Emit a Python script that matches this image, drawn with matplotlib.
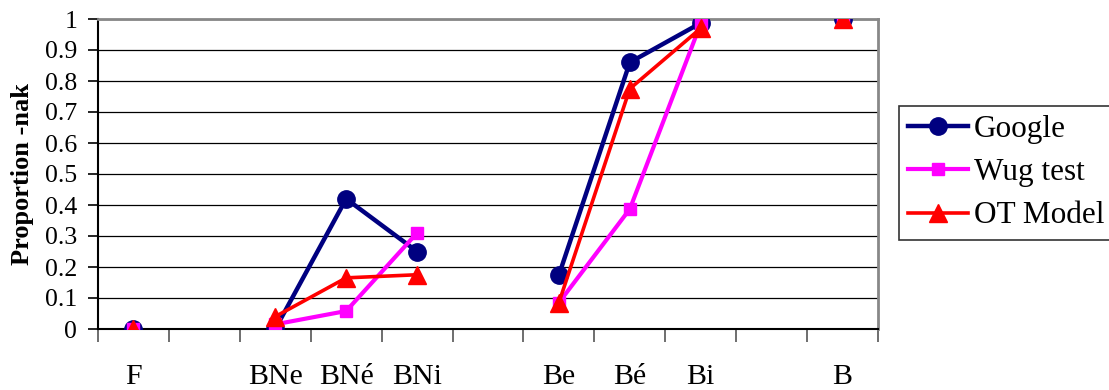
import numpy as np
import matplotlib.pyplot as plt
from matplotlib.ticker import FixedLocator

# categories (blank slots separate the groups)
categories = ['F', '', 'BNe', 'BNé', 'BNi', '', 'Be', 'Bé', 'Bi', '', 'B']

# proportion of -nak (NaN = no value)
google = [0.0, np.nan, 0.0, 0.42, 0.25, np.nan, 0.174, 0.86, 0.987, np.nan, 1.0]
wug_test = [0.0, np.nan, 0.015, 0.058, 0.31, np.nan, 0.085, 0.387, 0.985, np.nan, 1.0]
ot_model = [0.0, np.nan, 0.04, 0.165, 0.175, np.nan, 0.085, 0.775, 0.97, np.nan, 1.0]

y_ticks = [0, 0.1, 0.2, 0.3, 0.4, 0.5, 0.6, 0.7, 0.8, 0.9, 1]
y_ticklabels = ['0', '0.1', '0.2', '0.3', '0.4', '0.5', '0.6', '0.7', '0.8', '0.9', '1']

plt.rcParams['font.family'] = ['Liberation Serif', 'DejaVu Serif']

fig = plt.figure(figsize=(11.09, 3.90), dpi=100)
ax = fig.add_axes([98 / 1109, 61 / 390, 780 / 1109, 310 / 390])

x = np.arange(len(categories))
ax.plot(x, google, color='#000080', lw=3.2, marker='o', ms=12.5, label='Google', zorder=3)
ax.plot(x, wug_test, color='#FF00FF', lw=3, marker='s', ms=8, label='Wug test', zorder=4)
ax.plot(x, ot_model, color='#FF0000', lw=2.6, marker='^', ms=12.5, label='OT Model', zorder=5)

ax.set_xlim(-0.5, len(categories) - 0.5)
ax.set_ylim(0, 1)
ax.set_yticks(y_ticks)
ax.set_yticklabels(y_ticklabels)
ax.grid(axis='y', color='black', lw=0.9)
ax.set_axisbelow(True)

ax.set_xticks(x)
ax.set_xticklabels(categories, fontsize=21.5)
ax.xaxis.set_minor_locator(FixedLocator(np.arange(-0.5, len(categories), 1.0)))
ax.tick_params(axis='x', which='major', length=0, pad=25)
ax.tick_params(axis='x', which='minor', length=9, width=1.2, color='#555555')
ax.tick_params(axis='y', labelsize=18.5, length=7, width=1.2, pad=8)

for side in ['top', 'right']:
    ax.spines[side].set_color('#888888')
    ax.spines[side].set_linewidth(2)
for side in ['left', 'bottom']:
    ax.spines[side].set_color('black')
    ax.spines[side].set_linewidth(1.5)

ax.set_ylabel('Proportion -nak', fontsize=19, fontweight='bold', labelpad=8)

leg = fig.legend(loc='upper left', bbox_to_anchor=(899 / 1109, 1 - 106 / 390),
                 fontsize=22.5, frameon=True, fancybox=False, edgecolor='black',
                 handlelength=1.9, handletextpad=0.2, borderpad=0.3,
                 labelspacing=0.45, borderaxespad=0)
leg.get_frame().set_linewidth(1.2)

plt.savefig('out.png', dpi=100)
